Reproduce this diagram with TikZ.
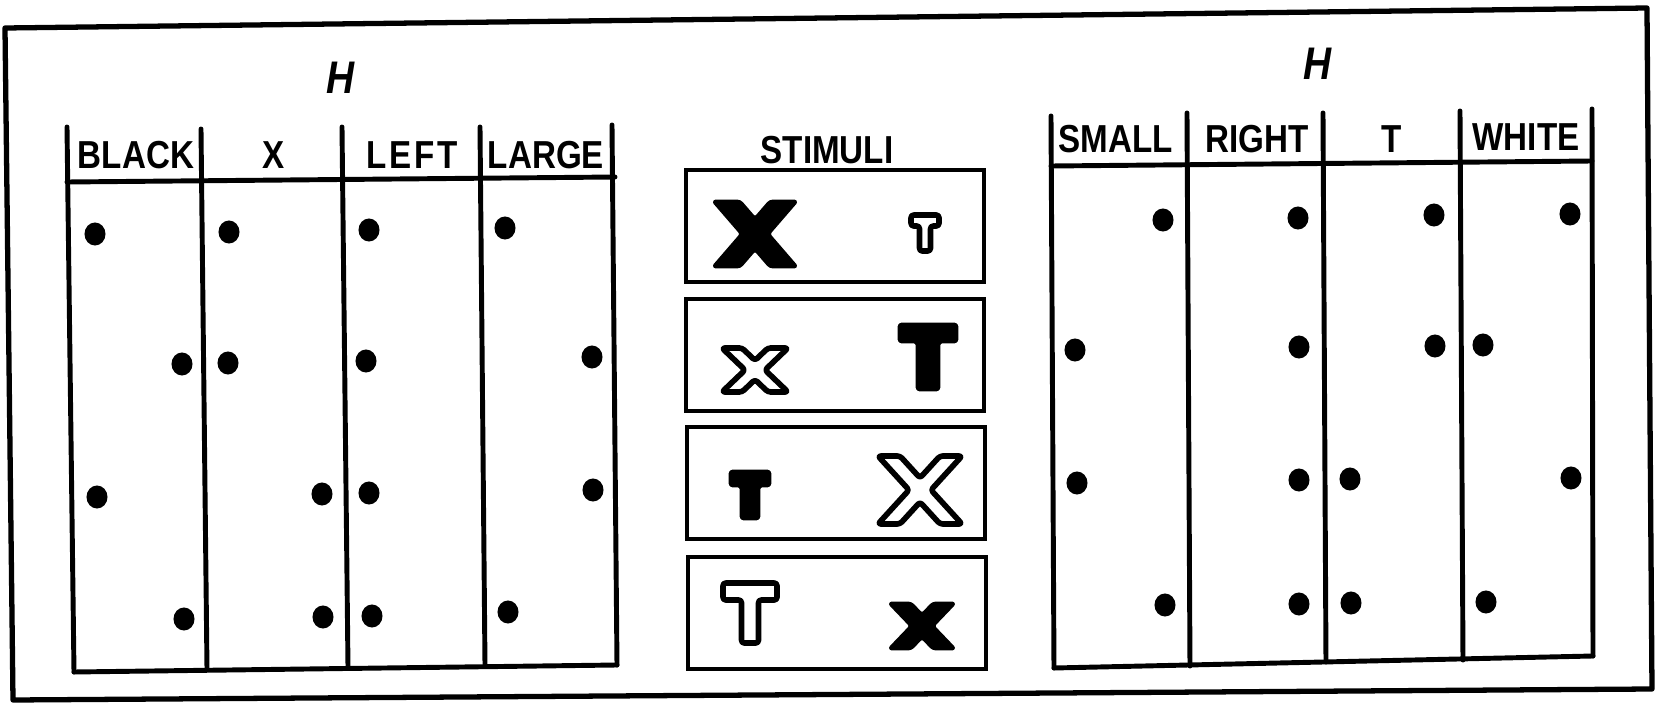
\documentclass[tikz,border=0pt]{standalone}
\usepackage{fontspec}
\usetikzlibrary{shapes.geometric}

\newfontfamily\lblfont[FakeStretch=0.85]{Liberation Sans}

% letter X: centre, half width, half height, stroke width, style
\newcommand{\shapeX}[5]{%
	\path[#5, shift={(#1)}] (-#2,-#3) -- (-#2+#4,-#3) -- (0,{-#3*#4/(2*#2-#4)}) -- (#2-#4,-#3) -- (#2,-#3)
		-- ({#4/2},0) -- (#2,#3) -- (#2-#4,#3) -- (0,{#3*#4/(2*#2-#4)}) -- (-#2+#4,#3) -- (-#2,#3)
		-- ({-#4/2},0) -- cycle;}
% letter T: centre, half width, half height, bar, stem, style
\newcommand{\shapeT}[6]{%
	\path[#6, shift={(#1)}] (-#2,-#3) -- (#2,-#3) -- (#2,-#3+#4) -- ({#5/2},-#3+#4) -- ({#5/2},#3)
		-- ({-#5/2},#3) -- ({-#5/2},-#3+#4) -- (-#2,-#3+#4) -- cycle;}

\begin{document}
\begin{tikzpicture}[
		x=0.01cm, y=-0.01cm,
		rule/.style={line width=1.4pt, line cap=round, line join=round},
		frame/.style={line width=1.5pt, line join=round},
		stimbox/.style={rectangle, draw, line width=1.3pt, minimum width=2.98cm, minimum height=1.12cm, inner sep=0},
		lbl/.style={font=\lblfont\fontsize{11.1}{12}\selectfont\bfseries, inner sep=0},
		hd/.style={font=\lblfont\fontsize{13}{14}\selectfont\bfseries\itshape, inner sep=0},
		dot/.style={ellipse, fill=black, inner sep=0, minimum width=0.21cm, minimum height=0.23cm},
		ink/.style={fill=black, draw=black, line width=0.8pt, line join=round, rounded corners=0.8pt},
		hollow/.style={fill=white, draw=black, line width=1.6pt, line join=round, rounded corners=0.8pt}
		]
		\useasboundingbox (0,0) rectangle (1656,703);
		
		%Frame
		\draw[frame] (5,28) -- (1647,8) -- (1652,689) -- (13,700) -- cycle;
		
		%Left table
		\draw[rule] (67,127) -- (74,672);
		\draw[rule] (201,129) -- (207,669);
		\draw[rule] (342,127) -- (348,667);
		\draw[rule] (480,127) -- (485,665);
		\draw[rule] (612,125) -- (617,665);
		\draw[rule] (67,182) -- (615,177);
		\draw[rule] (74,672) -- (617,665);
		
		\node[hd]	(hleft)	at (341,78)		{H};
		\node[lbl]	(black)	at (136,155)	{BLACK};
		\node[lbl]	(xcol)	at (274,155)	{X};
		\node[lbl]	(left)	at (412,155)	{L\kern0.8pt E\kern0.8pt F\kern0.8pt T};
		\node[lbl]	(large)	at (546,155)	{LARGE};
		
		\node[dot]	(b1)	at (95,234)		{};
		\node[dot]	(b2)	at (182,364)	{};
		\node[dot]	(b3)	at (97,497)		{};
		\node[dot]	(b4)	at (184,619)	{};
		\node[dot]	(x1)	at (229,232)	{};
		\node[dot]	(x2)	at (228,363)	{};
		\node[dot]	(x3)	at (322,494)	{};
		\node[dot]	(x4)	at (323,617)	{};
		\node[dot]	(le1)	at (369,230)	{};
		\node[dot]	(le2)	at (366,361)	{};
		\node[dot]	(le3)	at (369,493)	{};
		\node[dot]	(le4)	at (372,616)	{};
		\node[dot]	(la1)	at (505,228)	{};
		\node[dot]	(la2)	at (592,357)	{};
		\node[dot]	(la3)	at (593,490)	{};
		\node[dot]	(la4)	at (508,612)	{};
		
		%Stimuli
		\node[lbl]		(stimuli)	at (827,150)	{STIMULI};
		\node[stimbox]	(stim1)		at (835,226)	{};
		\node[stimbox]	(stim2)		at (835,355)	{};
		\node[stimbox]	(stim3)		at (836,483)	{};
		\node[stimbox]	(stim4)		at (837,613)	{};
		
		\shapeX{755,234}{42}{33}{27}{ink}
		\shapeT{925,233}{14}{18}{11}{11}{hollow}
		\shapeX{755,370}{33}{22}{20}{hollow}
		\shapeT{928,357}{29}{33}{18}{22}{ink}
		\shapeT{750,495}{20}{24}{15}{18}{ink}
		\shapeX{920,490}{42}{34}{22}{hollow}
		\shapeT{750,613}{27}{30}{17}{17}{hollow}
		\shapeX{922,626}{33}{23}{22}{ink}
		
		%Right table
		\draw[rule] (1051,116) -- (1054,668);
		\draw[rule] (1187,113) -- (1190,666);
		\draw[rule] (1323,113) -- (1326,662);
		\draw[rule] (1460,111) -- (1463,660);
		\draw[rule] (1592,109) -- (1593,656);
		\draw[rule] (1051,166) -- (1592,161);
		\draw[rule] (1054,668) -- (1593,656);
		
		\node[hd]	(hright)	at (1318,64)	{H};
		\node[lbl]	(small)		at (1116,139)	{SMALL};
		\node[lbl]	(right)		at (1257,139)	{RIGHT};
		\node[lbl]	(tcol)		at (1392,139)	{T};
		\node[lbl]	(white)		at (1526,137)	{WHITE};
		
		\node[dot]	(s1)	at (1163,220)	{};
		\node[dot]	(s2)	at (1075,350)	{};
		\node[dot]	(s3)	at (1077,483)	{};
		\node[dot]	(s4)	at (1165,605)	{};
		\node[dot]	(r1)	at (1298,218)	{};
		\node[dot]	(r2)	at (1299,347)	{};
		\node[dot]	(r3)	at (1299,480)	{};
		\node[dot]	(r4)	at (1299,604)	{};
		\node[dot]	(t1)	at (1434,215)	{};
		\node[dot]	(t2)	at (1435,346)	{};
		\node[dot]	(t3)	at (1350,479)	{};
		\node[dot]	(t4)	at (1351,603)	{};
		\node[dot]	(w1)	at (1570,214)	{};
		\node[dot]	(w2)	at (1483,345)	{};
		\node[dot]	(w3)	at (1571,478)	{};
		\node[dot]	(w4)	at (1486,602)	{};
		
	\end{tikzpicture}
\end{document}
